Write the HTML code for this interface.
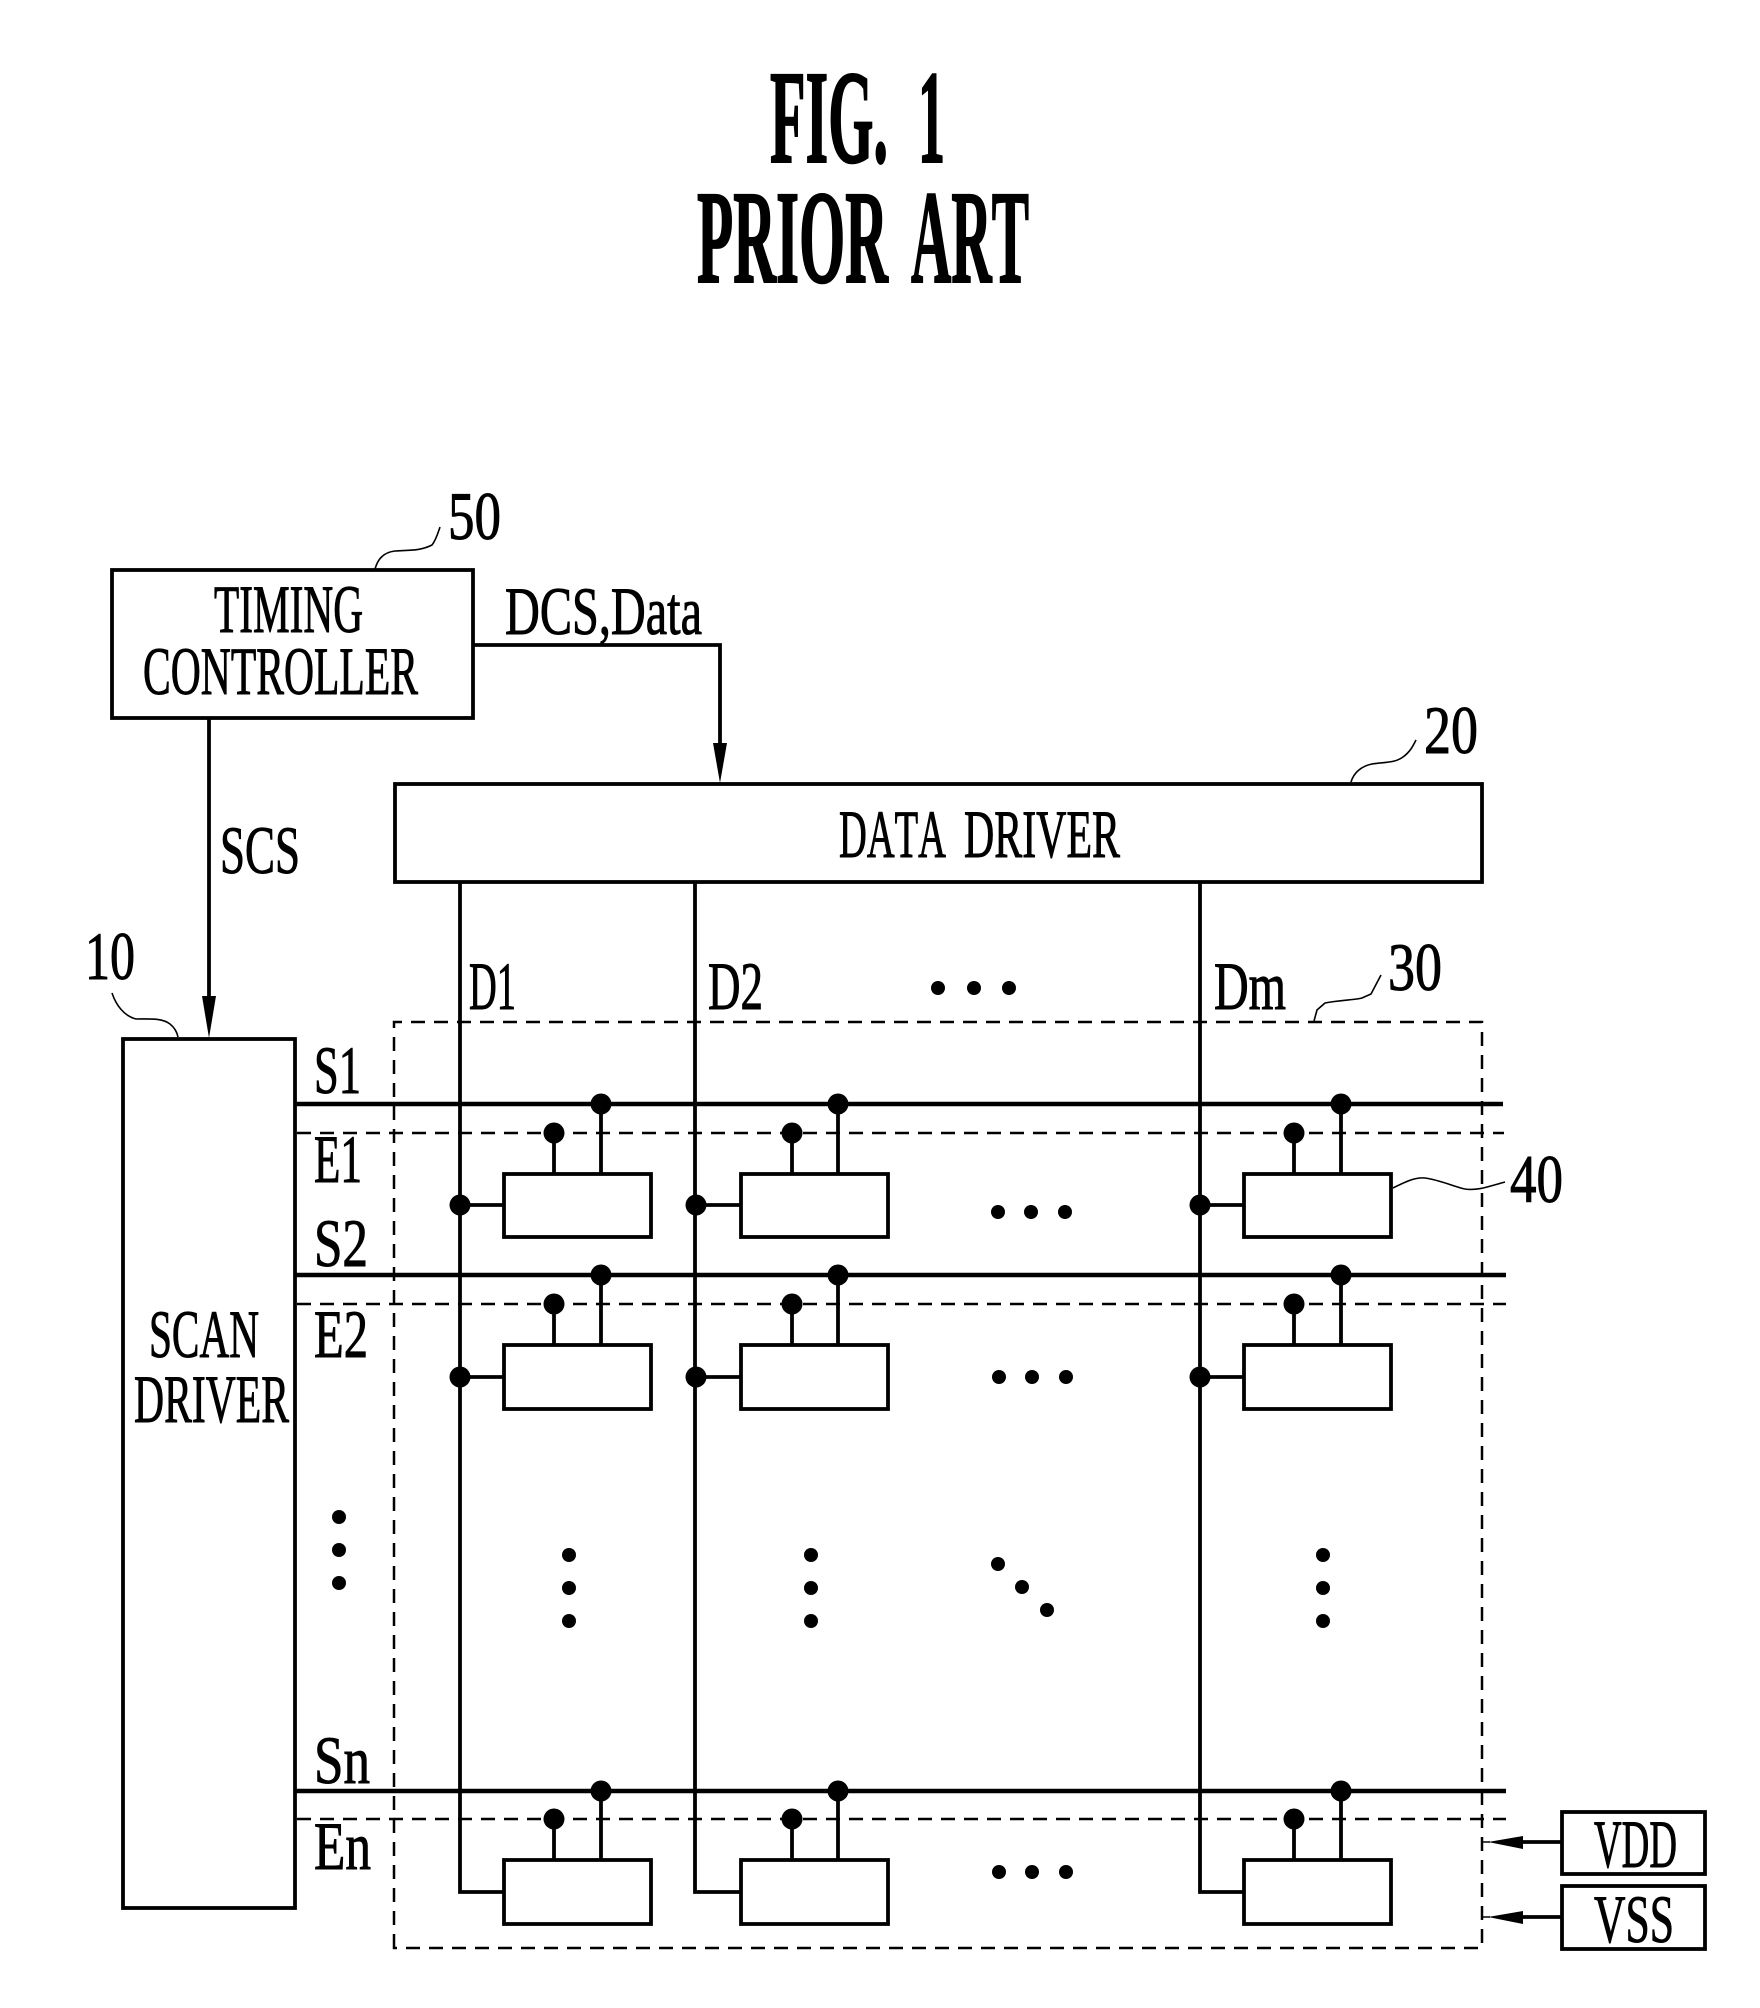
<!DOCTYPE html>
<html>
<head>
<meta charset="utf-8">
<style>
html,body{margin:0;padding:0;background:#fff}
svg{display:block}
text{font-family:"Liberation Serif",serif;fill:#000;stroke:#000;stroke-width:1px;font-size:68px;font-kerning:none}
.t{font-weight:bold;font-size:133px;stroke-width:2px}
.l{stroke:#000;stroke-width:3.8;fill:none}
.s{stroke:#000;stroke-width:4.5;fill:none}
.d{stroke:#000;stroke-width:2.5;fill:none;stroke-dasharray:14 9}
.w{stroke:#000;stroke-width:1.6;fill:none}
</style>
</head>
<body>
<svg width="1760" height="2008" viewBox="0 0 1760 2008" xmlns="http://www.w3.org/2000/svg">
<rect width="1760" height="2008" fill="#fff"/>

<text class="t" x="770" y="162" textLength="118" lengthAdjust="spacingAndGlyphs">FIG.</text>
<text class="t" x="918" y="162" textLength="27" lengthAdjust="spacingAndGlyphs">1</text>
<text class="t" x="697" y="282" textLength="191" lengthAdjust="spacingAndGlyphs">PRIOR</text>
<text class="t" x="911" y="282" textLength="118" lengthAdjust="spacingAndGlyphs">ART</text>

<!-- Timing controller -->
<rect class="l" x="112" y="570" width="361" height="148"/>
<text x="214" y="632" textLength="149" lengthAdjust="spacingAndGlyphs">TIMING</text>
<text x="143" y="694" textLength="275" lengthAdjust="spacingAndGlyphs">CONTROLLER</text>
<text x="448" y="539" textLength="53" lengthAdjust="spacingAndGlyphs">50</text>
<path class="w" d="M375,569 C378,558 385,552 395,551 C410,550 420,551 432,545 C436,540 438,533 440,527"/>

<!-- DCS,Data -->
<path class="l" d="M473,645 H720 V750"/>
<polygon points="713,743 727,743 720,783"/>
<text x="505" y="634" textLength="197" lengthAdjust="spacingAndGlyphs">DCS,Data</text>

<!-- SCS -->
<path class="l" d="M209,718 V1000"/>
<polygon points="202,996 216,996 209,1038"/>
<text x="220" y="873" textLength="80" lengthAdjust="spacingAndGlyphs">SCS</text>

<!-- Data driver -->
<rect class="l" x="395" y="784" width="1087" height="98"/>
<text x="839" y="857" textLength="107" lengthAdjust="spacingAndGlyphs">DATA</text>
<text x="964" y="857" textLength="156" lengthAdjust="spacingAndGlyphs">DRIVER</text>
<text x="1424" y="753" textLength="54" lengthAdjust="spacingAndGlyphs">20</text>
<path class="w" d="M1351,782 C1354,772 1362,766 1372,764 C1385,762 1395,763 1403,757 C1410,752 1413,746 1416,740"/>

<!-- Scan driver -->
<rect class="l" x="123" y="1039" width="172" height="869"/>
<text x="149" y="1357" textLength="110" lengthAdjust="spacingAndGlyphs">SCAN</text>
<text x="134" y="1422" textLength="155" lengthAdjust="spacingAndGlyphs">DRIVER</text>
<text x="85" y="979" textLength="50" lengthAdjust="spacingAndGlyphs">10</text>
<path class="w" d="M112,993 C116,1005 124,1016 136,1019 C150,1019 162,1018 170,1024 C175,1028 177,1032 178,1037"/>

<!-- Panel -->
<path class="d" d="M394,1948 V1022 H1482 V1948 Z"/>
<text x="1388" y="990" textLength="54" lengthAdjust="spacingAndGlyphs">30</text>
<path class="w" d="M1314,1021 L1317,1010 L1325,1003 C1340,1000 1355,1000 1362,998 L1371,994 L1381,975"/>

<!-- Data lines -->
<path class="l" d="M460,882 V1892 H504"/>
<path class="l" d="M695,882 V1892 H741"/>
<path class="l" d="M1200,882 V1892 H1244"/>
<text x="469" y="1009" textLength="47" lengthAdjust="spacingAndGlyphs">D1</text>
<text x="708" y="1009" textLength="55" lengthAdjust="spacingAndGlyphs">D2</text>
<text x="1214" y="1009" textLength="72" lengthAdjust="spacingAndGlyphs">Dm</text>
<circle cx="938" cy="988" r="7"/><circle cx="974" cy="988" r="7"/><circle cx="1009" cy="988" r="7"/>

<!-- Scan / emission lines -->
<path class="s" d="M295,1104 H1503"/>
<path class="d" d="M297,1133 H1504"/>
<path class="s" d="M295,1275 H1506"/>
<path class="d" d="M297,1304 H1506"/>
<path class="s" d="M295,1791 H1506"/>
<path class="d" d="M297,1819 H1506"/>

<text x="314" y="1093" textLength="47" lengthAdjust="spacingAndGlyphs">S1</text>
<text x="314" y="1182" textLength="48" lengthAdjust="spacingAndGlyphs">E1</text>
<text x="314" y="1266" textLength="54" lengthAdjust="spacingAndGlyphs">S2</text>
<text x="314" y="1357" textLength="54" lengthAdjust="spacingAndGlyphs">E2</text>
<text x="314" y="1783" textLength="56" lengthAdjust="spacingAndGlyphs">Sn</text>
<text x="314" y="1869" textLength="57" lengthAdjust="spacingAndGlyphs">En</text>

<!-- Row 1 -->
<g>
<rect class="l" x="504" y="1174" width="147" height="63"/>
<rect class="l" x="741" y="1174" width="147" height="63"/>
<rect class="l" x="1244" y="1174" width="147" height="63"/>
<path class="l" d="M460,1205 H504 M695,1205 H741 M1200,1205 H1244"/>
<path class="l" d="M554,1133 V1174 M601,1104 V1174 M792,1133 V1174 M838,1104 V1174 M1294,1133 V1174 M1341,1104 V1174"/>
<circle cx="460" cy="1205" r="10.5"/><circle cx="696" cy="1205" r="10.5"/><circle cx="1200" cy="1205" r="10.5"/>
<circle cx="554" cy="1133" r="10.5"/><circle cx="601" cy="1104" r="10.5"/>
<circle cx="792" cy="1133" r="10.5"/><circle cx="838" cy="1104" r="10.5"/>
<circle cx="1294" cy="1133" r="10.5"/><circle cx="1341" cy="1104" r="10.5"/>
<circle cx="998" cy="1212" r="7"/><circle cx="1031" cy="1212" r="7"/><circle cx="1065" cy="1212" r="7"/>
</g>

<!-- Row 2 -->
<g>
<rect class="l" x="504" y="1345" width="147" height="64"/>
<rect class="l" x="741" y="1345" width="147" height="64"/>
<rect class="l" x="1244" y="1345" width="147" height="64"/>
<path class="l" d="M460,1377 H504 M695,1377 H741 M1200,1377 H1244"/>
<path class="l" d="M554,1304 V1345 M601,1275 V1345 M792,1304 V1345 M838,1275 V1345 M1294,1304 V1345 M1341,1275 V1345"/>
<circle cx="460" cy="1377" r="10.5"/><circle cx="696" cy="1377" r="10.5"/><circle cx="1200" cy="1377" r="10.5"/>
<circle cx="554" cy="1304" r="10.5"/><circle cx="601" cy="1275" r="10.5"/>
<circle cx="792" cy="1304" r="10.5"/><circle cx="838" cy="1275" r="10.5"/>
<circle cx="1294" cy="1304" r="10.5"/><circle cx="1341" cy="1275" r="10.5"/>
<circle cx="999" cy="1377" r="7"/><circle cx="1032" cy="1377" r="7"/><circle cx="1066" cy="1377" r="7"/>
</g>

<!-- Row n -->
<g>
<rect class="l" x="504" y="1860" width="147" height="64"/>
<rect class="l" x="741" y="1860" width="147" height="64"/>
<rect class="l" x="1244" y="1860" width="147" height="64"/>
<path class="l" d="M554,1819 V1860 M601,1791 V1860 M792,1819 V1860 M838,1791 V1860 M1294,1819 V1860 M1341,1791 V1860"/>
<circle cx="554" cy="1819" r="10.5"/><circle cx="601" cy="1791" r="10.5"/>
<circle cx="792" cy="1819" r="10.5"/><circle cx="838" cy="1791" r="10.5"/>
<circle cx="1294" cy="1819" r="10.5"/><circle cx="1341" cy="1791" r="10.5"/>
<circle cx="999" cy="1872" r="7"/><circle cx="1032" cy="1872" r="7"/><circle cx="1066" cy="1872" r="7"/>
</g>

<!-- Vertical / diagonal ellipses -->
<circle cx="339" cy="1517" r="7"/><circle cx="339" cy="1550" r="7"/><circle cx="339" cy="1583" r="7"/>
<circle cx="569" cy="1555" r="7"/><circle cx="569" cy="1588" r="7"/><circle cx="569" cy="1621" r="7"/>
<circle cx="811" cy="1555" r="7"/><circle cx="811" cy="1588" r="7"/><circle cx="811" cy="1621" r="7"/>
<circle cx="1323" cy="1555" r="7"/><circle cx="1323" cy="1588" r="7"/><circle cx="1323" cy="1621" r="7"/>
<circle cx="998" cy="1564" r="7"/><circle cx="1022" cy="1587" r="7"/><circle cx="1047" cy="1610" r="7"/>

<!-- Pixel label -->
<text x="1510" y="1202" textLength="53" lengthAdjust="spacingAndGlyphs">40</text>
<path class="w" d="M1393,1188 C1405,1182 1415,1177 1425,1178 C1440,1180 1455,1187 1465,1189 C1478,1191 1490,1186 1505,1182"/>

<!-- VDD / VSS -->
<rect class="l" x="1562" y="1812" width="143" height="62"/>
<rect class="l" x="1562" y="1886" width="143" height="63"/>
<text x="1594" y="1867" textLength="83" lengthAdjust="spacingAndGlyphs">VDD</text>
<text x="1594" y="1942" textLength="80" lengthAdjust="spacingAndGlyphs">VSS</text>
<path class="l" d="M1520,1842 H1562 M1520,1917 H1562"/>
<polygon points="1488,1842 1523,1836 1523,1849"/>
<polygon points="1488,1917 1523,1911 1523,1924"/>
<path class="w" d="M1482,1842 H1490 M1482,1917 H1490"/>
</svg>
</body>
</html>
